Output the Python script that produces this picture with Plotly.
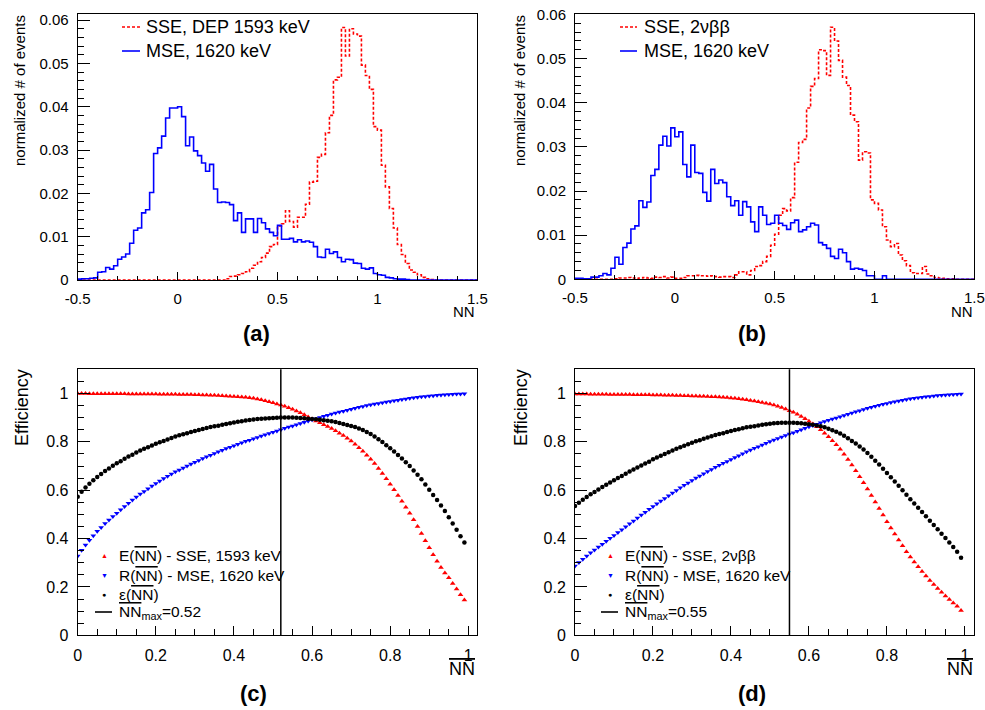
import numpy as np
import plotly.graph_objects as go

# NN histograms: 100 bins of width 0.02 between -0.5 and 1.5
nn_edges = np.linspace(-0.5, 1.5, 101)

a_sse = [0, 0, 0, 0, 0, 0, 0, 0, 0, 0,
         0, 0, 0, 0, 0, 0, 0, 0, 0, 0,
         0, 0, 0, 0, 0, 0, 0, 0, 0, 0,
         0, 0, 0, 0, 0, 0, 0, 0.0003, 0.0008, 0.0009,
         0.0012, 0.0015, 0.0019, 0.0027, 0.0034, 0.0042, 0.0052, 0.0062, 0.0077, 0.0082,
         0.0125, 0.0130, 0.0160, 0.0135, 0.0122, 0.0145, 0.0145, 0.0175, 0.0226, 0.0228,
         0.0283, 0.0290, 0.0340, 0.0380, 0.0462, 0.0468, 0.0583, 0.0517, 0.0580, 0.0568,
         0.0563, 0.0496, 0.0472, 0.0440, 0.0354, 0.0346, 0.0265, 0.0215, 0.0165, 0.0120,
         0.0082, 0.0059, 0.0038, 0.0023, 0.0018, 0.0012, 0.0006, 0.0003, 0.0001, 0,
         0, 0, 0, 0, 0, 0, 0, 0, 0, 0]
a_mse = [0.0002, 0.0003, 0.0003, 0.0004, 0.0005, 0.0018, 0.0019, 0.0029, 0.0025, 0.0033,
         0.0048, 0.0053, 0.0060, 0.0085, 0.0115, 0.0120, 0.0155, 0.0162, 0.0202, 0.0292,
         0.0305, 0.0332, 0.0374, 0.0397, 0.0397, 0.0400, 0.0377, 0.0310, 0.0330, 0.0298,
         0.0287, 0.0270, 0.0251, 0.0267, 0.0210, 0.0179, 0.0180, 0.0179, 0.0174, 0.0137,
         0.0155, 0.0110, 0.0141, 0.0141, 0.0110, 0.0142, 0.0132, 0.0118, 0.0110, 0.0102,
         0.0126, 0.0094, 0.0094, 0.0096, 0.0088, 0.0093, 0.0088, 0.0090, 0.0087, 0.0077,
         0.0053, 0.0052, 0.0071, 0.0061, 0.0065, 0.0052, 0.0042, 0.0048, 0.0047, 0.0039,
         0.0038, 0.0027, 0.0025, 0.0028, 0.0015, 0.0012, 0.0011, 0.0006, 0.0005, 0.0003,
         0.0002, 0.0002, 0.0001, 0, 0, 0, 0, 0, 0, 0,
         0, 0, 0, 0, 0, 0, 0, 0, 0, 0]
b_sse = [0, 0, 0, 0, 0, 0, 0, 0, 0, 0,
         0.0001, 0.0003, 0.0003, 0.0004, 0.0003, 0.0002, 0.0003, 0.0004, 0.0003, 0.0002,
         0.0005, 0.0004, 0.0006, 0.0003, 0.0005, 0.0002, 0.0002, 0.0004, 0.0008, 0.0008,
         0.0009, 0.0008, 0.0008, 0.0007, 0.0008, 0.0006, 0.0005, 0.0006, 0.0006, 0.0004,
         0.0010, 0.0017, 0.0017, 0.0010, 0.0020, 0.0029, 0.0031, 0.0040, 0.0052, 0.0077,
         0.0102, 0.0145, 0.0160, 0.0155, 0.0185, 0.0265, 0.0310, 0.0317, 0.0388, 0.0437,
         0.0455, 0.0520, 0.0518, 0.0462, 0.0571, 0.0540, 0.0496, 0.0458, 0.0439, 0.0372,
         0.0357, 0.0270, 0.0289, 0.0286, 0.0180, 0.0172, 0.0157, 0.0119, 0.0089, 0.0074,
         0.0081, 0.0055, 0.0042, 0.0031, 0.0015, 0.0013, 0.0013, 0.0029, 0.0012, 0.0008,
         0.0004, 0.0003, 0.0002, 0.0001, 0.0001, 0, 0, 0, 0, 0]
b_mse = [0.0002, 0.0002, 0.0001, 0.0001, 0.0005, 0.0005, 0.0008, 0.0013, 0.0010, 0.0025,
         0.0050, 0.0034, 0.0072, 0.0082, 0.0114, 0.0121, 0.0178, 0.0163, 0.0175, 0.0235,
         0.0249, 0.0304, 0.0324, 0.0302, 0.0343, 0.0323, 0.0334, 0.0260, 0.0232, 0.0304,
         0.0242, 0.0240, 0.0197, 0.0177, 0.0249, 0.0217, 0.0225, 0.0219, 0.0187, 0.0167,
         0.0178, 0.0145, 0.0176, 0.0164, 0.0130, 0.0108, 0.0164, 0.0145, 0.0124, 0.0127,
         0.0145, 0.0127, 0.0122, 0.0113, 0.0128, 0.0134, 0.0108, 0.0112, 0.0119, 0.0127,
         0.0123, 0.0083, 0.0078, 0.0070, 0.0052, 0.0047, 0.0068, 0.0060, 0.0040, 0.0023,
         0.0025, 0.0023, 0.0020, 0.0008, 0.0008, 0, 0, 0.0008, 0, 0,
         0, 0, 0, 0, 0, 0, 0, 0, 0, 0,
         0, 0, 0, 0, 0, 0, 0, 0, 0, 0]

# efficiency curves versus the cut on NN (0.00 ... 0.99)
nn_cut = [i / 100 for i in range(100)]

c_acc = [1.000, 1.000, 1.000, 0.999, 0.999, 0.999, 0.999, 0.999, 0.999, 0.999,
         0.999, 0.999, 0.999, 0.998, 0.998, 0.998, 0.998, 0.998, 0.998, 0.998,
         0.998, 0.997, 0.997, 0.997, 0.997, 0.997, 0.996, 0.996, 0.996, 0.996,
         0.995, 0.995, 0.994, 0.994, 0.993, 0.993, 0.992, 0.991, 0.990, 0.989,
         0.988, 0.987, 0.985, 0.984, 0.982, 0.980, 0.977, 0.974, 0.970, 0.966,
         0.962, 0.957, 0.952, 0.947, 0.941, 0.935, 0.928, 0.920, 0.912, 0.903,
         0.894, 0.886, 0.879, 0.871, 0.863, 0.855, 0.846, 0.836, 0.826, 0.815,
         0.803, 0.790, 0.776, 0.761, 0.745, 0.728, 0.710, 0.690, 0.669, 0.647,
         0.625, 0.602, 0.578, 0.554, 0.530, 0.505, 0.478, 0.450, 0.421, 0.391,
         0.362, 0.333, 0.306, 0.280, 0.258, 0.238, 0.214, 0.191, 0.168, 0.146]
c_rej = [0.328, 0.352, 0.373, 0.393, 0.412, 0.430, 0.446, 0.462, 0.477, 0.491,
         0.505, 0.519, 0.533, 0.546, 0.559, 0.572, 0.584, 0.595, 0.606, 0.617,
         0.628, 0.638, 0.648, 0.658, 0.667, 0.676, 0.684, 0.692, 0.700, 0.708,
         0.716, 0.723, 0.731, 0.738, 0.745, 0.752, 0.759, 0.765, 0.772, 0.778,
         0.784, 0.790, 0.796, 0.802, 0.807, 0.813, 0.818, 0.824, 0.829, 0.835,
         0.840, 0.845, 0.850, 0.856, 0.861, 0.866, 0.871, 0.876, 0.881, 0.886,
         0.891, 0.896, 0.901, 0.906, 0.910, 0.915, 0.919, 0.923, 0.927, 0.931,
         0.935, 0.939, 0.943, 0.946, 0.950, 0.953, 0.956, 0.959, 0.962, 0.965,
         0.967, 0.970, 0.972, 0.975, 0.977, 0.980, 0.982, 0.984, 0.986, 0.988,
         0.990, 0.991, 0.993, 0.994, 0.995, 0.996, 0.997, 0.998, 0.998, 0.999]
c_eps = [0.573, 0.594, 0.611, 0.627, 0.641, 0.655, 0.667, 0.679, 0.690, 0.701,
         0.711, 0.720, 0.730, 0.739, 0.747, 0.756, 0.764, 0.771, 0.778, 0.785,
         0.792, 0.798, 0.804, 0.810, 0.816, 0.822, 0.827, 0.831, 0.836, 0.841,
         0.845, 0.849, 0.853, 0.857, 0.861, 0.864, 0.867, 0.871, 0.874, 0.877,
         0.880, 0.883, 0.885, 0.888, 0.890, 0.892, 0.894, 0.896, 0.897, 0.898,
         0.899, 0.900, 0.901, 0.901, 0.901, 0.901, 0.900, 0.899, 0.898, 0.896,
         0.894, 0.893, 0.891, 0.889, 0.887, 0.885, 0.882, 0.878, 0.874, 0.870,
         0.866, 0.861, 0.855, 0.849, 0.841, 0.832, 0.822, 0.811, 0.799, 0.786,
         0.773, 0.760, 0.746, 0.731, 0.716, 0.700, 0.682, 0.664, 0.645, 0.624,
         0.602, 0.580, 0.559, 0.537, 0.514, 0.488, 0.462, 0.437, 0.410, 0.384]

d_acc = [0.998, 0.998, 0.998, 0.998, 0.997, 0.997, 0.997, 0.997, 0.997, 0.996,
         0.996, 0.996, 0.996, 0.996, 0.996, 0.995, 0.995, 0.995, 0.995, 0.995,
         0.994, 0.994, 0.994, 0.993, 0.993, 0.993, 0.992, 0.992, 0.991, 0.991,
         0.990, 0.990, 0.989, 0.989, 0.988, 0.987, 0.986, 0.985, 0.984, 0.983,
         0.981, 0.980, 0.978, 0.976, 0.974, 0.971, 0.969, 0.966, 0.963, 0.960,
         0.956, 0.952, 0.947, 0.942, 0.936, 0.929, 0.922, 0.914, 0.905, 0.895,
         0.885, 0.874, 0.862, 0.850, 0.836, 0.821, 0.805, 0.788, 0.769, 0.749,
         0.727, 0.704, 0.680, 0.656, 0.631, 0.605, 0.578, 0.551, 0.524, 0.497,
         0.470, 0.444, 0.419, 0.394, 0.370, 0.346, 0.324, 0.303, 0.283, 0.264,
         0.245, 0.227, 0.210, 0.194, 0.178, 0.163, 0.148, 0.134, 0.120, 0.103]
d_rej = [0.287, 0.301, 0.315, 0.328, 0.341, 0.353, 0.365, 0.377, 0.389, 0.401,
         0.413, 0.425, 0.437, 0.449, 0.461, 0.473, 0.485, 0.497, 0.509, 0.521,
         0.533, 0.544, 0.555, 0.566, 0.577, 0.588, 0.599, 0.610, 0.620, 0.630,
         0.640, 0.650, 0.659, 0.668, 0.677, 0.686, 0.695, 0.703, 0.711, 0.719,
         0.727, 0.735, 0.743, 0.751, 0.759, 0.766, 0.773, 0.780, 0.787, 0.794,
         0.801, 0.808, 0.814, 0.820, 0.826, 0.832, 0.838, 0.844, 0.850, 0.856,
         0.862, 0.868, 0.873, 0.879, 0.884, 0.889, 0.894, 0.899, 0.904, 0.909,
         0.914, 0.919, 0.924, 0.929, 0.934, 0.939, 0.943, 0.947, 0.951, 0.955,
         0.959, 0.963, 0.966, 0.969, 0.972, 0.975, 0.978, 0.980, 0.982, 0.984,
         0.986, 0.988, 0.990, 0.992, 0.993, 0.994, 0.995, 0.996, 0.997, 0.998]
d_eps = [0.535, 0.548, 0.561, 0.572, 0.583, 0.593, 0.603, 0.613, 0.623, 0.632,
         0.641, 0.650, 0.659, 0.668, 0.677, 0.686, 0.694, 0.702, 0.710, 0.718,
         0.728, 0.735, 0.743, 0.750, 0.757, 0.764, 0.771, 0.778, 0.784, 0.790,
         0.796, 0.802, 0.807, 0.813, 0.818, 0.823, 0.828, 0.832, 0.836, 0.841,
         0.845, 0.849, 0.852, 0.856, 0.860, 0.862, 0.865, 0.868, 0.871, 0.873,
         0.875, 0.877, 0.878, 0.879, 0.879, 0.879, 0.879, 0.878, 0.877, 0.875,
         0.873, 0.871, 0.868, 0.864, 0.860, 0.854, 0.848, 0.842, 0.834, 0.825,
         0.815, 0.804, 0.793, 0.781, 0.768, 0.754, 0.738, 0.722, 0.706, 0.689,
         0.671, 0.654, 0.636, 0.618, 0.600, 0.581, 0.563, 0.545, 0.527, 0.510,
         0.492, 0.474, 0.456, 0.439, 0.420, 0.402, 0.384, 0.365, 0.346, 0.321]

nn_max_c = 0.52
nn_max_d = 0.55

W, H = 985, 710
FONT = "Liberation Sans, Arial, Helvetica, sans-serif"
OV = "<span style='text-decoration:overline'>NN</span>"


def px(x):
    return x / W


def py(y):
    return 1 - y / H


def step_trace(vals, color, dash, xa, ya):
    return go.Scatter(x=nn_edges, y=list(vals) + [vals[-1]], mode="lines",
                      line=dict(color=color, width=1.6, dash=dash, shape="hv"),
                      xaxis=xa, yaxis=ya, showlegend=False, hoverinfo="skip")


def dots(y, color, symbol, size, xa, ya):
    return go.Scatter(x=nn_cut, y=y, mode="markers",
                      marker=dict(color=color, symbol=symbol, size=size, line_width=0),
                      xaxis=xa, yaxis=ya, showlegend=False)


fig = go.Figure()
fig.add_trace(step_trace(a_sse, "#ff0000", "3px,2px", "x", "y"))
fig.add_trace(step_trace(a_mse, "#0000ff", "solid", "x", "y"))
fig.add_trace(step_trace(b_sse, "#ff0000", "3px,2px", "x2", "y2"))
fig.add_trace(step_trace(b_mse, "#0000ff", "solid", "x2", "y2"))
fig.add_trace(dots(c_acc, "#ff0000", "triangle-up", 5, "x3", "y3"))
fig.add_trace(dots(c_rej, "#0000ff", "triangle-down", 5, "x3", "y3"))
fig.add_trace(dots(c_eps, "black", "circle", 4.5, "x3", "y3"))
fig.add_trace(dots(d_acc, "#ff0000", "triangle-up", 5, "x4", "y4"))
fig.add_trace(dots(d_rej, "#0000ff", "triangle-down", 5, "x4", "y4"))
fig.add_trace(dots(d_eps, "black", "circle", 4.5, "x4", "y4"))

for xr, nmax in (("x3", nn_max_c), ("x4", nn_max_d)):
    fig.add_shape(type="line", xref=xr, yref=xr.replace("x", "y") + " domain",
                  x0=nmax, x1=nmax, y0=0, y1=1, line=dict(color="black", width=1.5))


def axis(dom, rng, tv, tt, ln, mdt, mln, fs):
    return dict(domain=dom, range=rng, tickmode="array", tickvals=tv, ticktext=tt,
                ticks="inside", ticklen=ln, tickwidth=1, tickcolor="black",
                minor=dict(ticks="inside", ticklen=mln, tickmode="linear", tick0=rng[0] if rng[0] < 0 else 0,
                           dtick=mdt, tickcolor="black", tickwidth=1),
                showline=True, mirror=True, linecolor="black", linewidth=1,
                showgrid=False, zeroline=False, ticklabelstandoff=5, automargin=False,
                tickfont=dict(family=FONT, size=fs, color="black"), fixedrange=True)


hx_v = [-0.5, 0, 0.5, 1, 1.5]
hx_t = ["-0.5", "0", "0.5", "1", "1.5"]
hy_v = [0, 0.01, 0.02, 0.03, 0.04, 0.05, 0.06]
hy_t = ["0", "0.01", "0.02", "0.03", "0.04", "0.05", "0.06"]
ex_v = [0, 0.2, 0.4, 0.6, 0.8, 1]
ex_t = ["0", "0.2", "0.4", "0.6", "0.8", "1"]

fig.update_layout(
    xaxis=axis([px(77.7), px(477.3)], [-0.5, 1.5], hx_v, hx_t, 8, 0.1, 4, 15),
    yaxis=axis([py(280), py(14)], [0, 0.0614], hy_v, hy_t, 12, 0.002, 6, 15),
    xaxis2=axis([px(575), px(974.3)], [-0.5, 1.5], hx_v, hx_t, 8, 0.1, 4, 15),
    yaxis2=axis([py(279.3), py(14)], [0, 0.0601], hy_v, hy_t, 12, 0.002, 6, 15),
    xaxis3=axis([px(77.7), px(477.3)], [0, 1.023], ex_v, ex_t, 9, 0.05, 6, 16),
    yaxis3=axis([py(635.3), py(369.3)], [0, 1.1], ex_v, ex_t, 12, 0.05, 6, 16),
    xaxis4=axis([px(575), px(974.3)], [0, 1.024], ex_v, ex_t, 9, 0.05, 6, 16),
    yaxis4=axis([py(635.3), py(369.3)], [0, 1.1], ex_v, ex_t, 12, 0.05, 6, 16),
)
fig.update_layout(xaxis2_anchor="y2", yaxis2_anchor="x2", xaxis3_anchor="y3",
                  yaxis3_anchor="x3", xaxis4_anchor="y4", yaxis4_anchor="x4")


def note(x, y, text, size, color="black", xanchor="left", angle=0, bold=False):
    if bold:
        text = "<b>" + text + "</b>"
    fig.add_annotation(x=px(x), y=py(y), xref="paper", yref="paper", text=text,
                       showarrow=False, xanchor=xanchor, yanchor="middle",
                       textangle=angle, font=dict(family=FONT, size=size, color=color))


def sample(x0, x1, y, color, dash):
    fig.add_shape(type="line", xref="paper", yref="paper", x0=px(x0), x1=px(x1),
                  y0=py(y), y1=py(y), line=dict(color=color, width=1.6, dash=dash))


# panel labels and axis titles
for x, y, t in ((256, 333, "(a)"), (752, 333, "(b)"), (254, 693, "(c)"), (752, 693, "(d)")):
    note(x, y, t, 22, xanchor="center", bold=True)
note(19, 91, "normalized # of events", 15, xanchor="center", angle=-90)
note(519, 91, "normalized # of events", 15, xanchor="center", angle=-90)
note(22, 408, "Efficiency", 18, xanchor="center", angle=-90)
note(521, 408, "Efficiency", 18, xanchor="center", angle=-90)
note(477, 311, "NN", 15, xanchor="right")
note(975, 311, "NN", 15, xanchor="right")
note(477, 669, OV, 18, xanchor="right")
note(975, 669, OV, 18, xanchor="right")

# legends of the histograms
sample(122, 140, 27, "#ff0000", "3px,2px")
sample(122, 140, 51, "#0000ff", "solid")
note(144, 27, "SSE, DEP 1593 keV", 18)
note(144, 51, "MSE, 1620 keV", 18)
sample(620, 637, 27, "#ff0000", "3px,2px")
sample(620, 637, 51, "#0000ff", "solid")
note(642, 27, "SSE, 2\u03bd\u03b2\u03b2", 18)
note(642, 51, "MSE, 1620 keV", 18)

# legends of the efficiency plots
rows = [555, 575, 594, 612]
for gx, tx, sse, nmax in ((104, 117, "1593 keV", nn_max_c), (610, 623, "2\u03bd\u03b2\u03b2", nn_max_d)):
    note(gx, rows[0], "\u25b2", 7, "#ff0000", xanchor="center")
    note(gx, rows[1], "\u25bc", 7, "#0000ff", xanchor="center")
    note(gx, rows[2], "\u25cf", 7, "black", xanchor="center")
    sample(gx - 9, gx + 8, rows[3], "black", "solid")
    note(tx, rows[0], "E(" + OV + ") - SSE, " + sse, 15.5)
    note(tx, rows[1], "R(" + OV + ") - MSE, 1620 keV", 15.5)
    note(tx, rows[2], "\u03b5(" + OV + ")", 15.5)
    note(tx, rows[3], OV + "<sub>max</sub>=%.2f" % nmax, 15.5)

fig.update_layout(width=W, height=H, autosize=False,
                  margin=dict(l=0, r=0, t=0, b=0, autoexpand=False),
                  paper_bgcolor="white", plot_bgcolor="white", showlegend=False,
                  font=dict(family=FONT, color="black"))

# drop the default page margin so the 985x710 figure fills the window exactly
fig.write_html("out.html", config={"displayModeBar": False},
               post_script="document.body.style.margin='0px';document.body.style.overflow='hidden';")
